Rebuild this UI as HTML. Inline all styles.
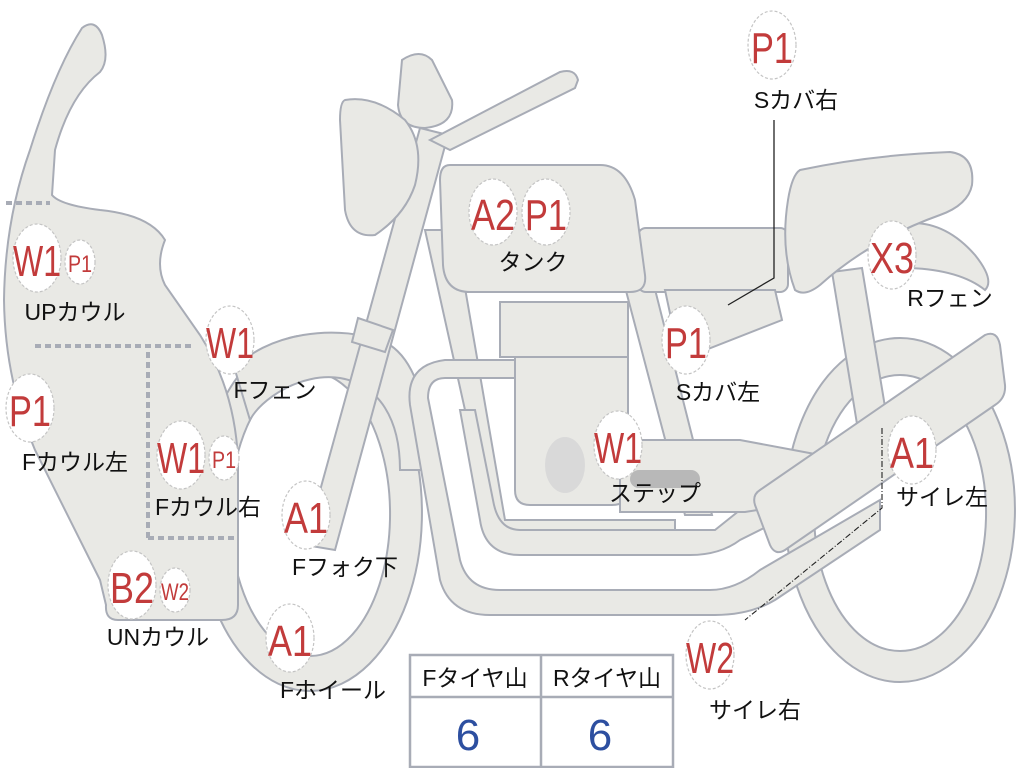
<!DOCTYPE html>
<html><head><meta charset="utf-8"><style>
html,body{margin:0;padding:0;background:#fff;}
svg{display:block;}
.s{fill:#e9e9e5;stroke:#a8acb6;stroke-width:2;}
.c{fill:#fff;stroke:#c4c4c4;stroke-width:1.2;stroke-dasharray:3 2;}
.r{fill:#c23b3b;font-family:"Liberation Sans","Noto Sans CJK JP",sans-serif;font-size:44px;text-anchor:middle;}
.rs{fill:#c23b3b;font-family:"Liberation Sans","Noto Sans CJK JP",sans-serif;font-size:24px;text-anchor:middle;}
.k{fill:#111;font-family:"Liberation Sans","Noto Sans CJK JP",sans-serif;font-size:23px;text-anchor:middle;}
</style></head><body>
<svg width="1024" height="768" viewBox="0 0 1024 768" xmlns="http://www.w3.org/2000/svg">
<rect width="1024" height="768" fill="#fff"/>
<path class="s" fill-rule="evenodd" d="M900,338 A115,172 0 1,1 899.9,338 Z M900,375 A86,138 0 1,0 900.1,375 Z"/>
<path class="s" fill-rule="evenodd" d="M310,335 A112,178 0 1,1 309.9,335 Z M310,372 A80,142 0 1,0 310.1,372 Z"/>
<path class="s" d="M235,370 C260,335 340,320 390,345 C420,365 430,420 430,470 L400,470 C400,420 380,385 340,378 C300,372 260,400 250,420 Z"/>
<path class="s" d="M425,230 L455,230 L505,520 L675,520 L675,545 L495,545 Z"/>
<path class="s" d="M610,230 L640,230 L712,515 L685,515 Z"/>
<path class="s" d="M445,378 Q428,378 428,398 L460,560 Q468,590 500,590 L710,590 Q735,590 760,570 L880,500 L880,530 L775,600 Q750,615 715,615 L490,615 Q450,615 440,580 L410,405 Q405,365 445,360 L520,360 L520,378 Z"/>
<path class="s" d="M460,410 L480,520 Q485,555 520,555 L690,555 Q720,555 740,540 L770,525 L780,500 L740,510 L715,530 L520,530 Q498,530 493,500 L475,410 Z"/>
<rect class="s" x="500" y="302" width="128" height="55"/>
<path class="s" d="M515,357 L628,357 L628,490 Q628,505 612,505 L530,505 Q515,505 515,490 Z"/>
<ellipse cx="565" cy="465" rx="20" ry="28" fill="#d9d9d9"/>
<path class="s" d="M620,440 L740,440 L820,455 L820,500 L745,512 L620,512 Z"/>
<rect x="630" y="470" width="70" height="18" rx="9" fill="#b8b8b8"/>
<path class="s" d="M832,272 L862,268 L888,425 L858,430 Z"/>
<path class="s" d="M760,490 L985,335 Q997,330 1000,345 L1005,385 Q1006,398 995,405 L785,550 Q775,556 770,545 L755,505 Q752,495 760,490 Z"/>
<path class="s" d="M895,225 Q940,215 975,255 Q995,280 985,290 Q960,270 910,268 Z"/>
<rect class="s" x="638" y="228" width="150" height="64" rx="8"/>
<path class="s" d="M665,290 L775,290 L782,320 L680,360 Z"/>
<path class="s" d="M800,170 Q870,155 950,152 Q975,155 972,185 Q968,205 940,215 Q870,240 820,285 Q805,297 795,290 Q780,250 788,200 Q792,175 800,170 Z"/>
<path class="s" d="M450,165 L600,165 Q625,165 635,200 L645,275 Q647,292 630,292 L470,292 Q445,292 443,265 L440,180 Q440,165 450,165 Z"/>
<path class="s" d="M420,128 L448,135 L335,550 L305,545 Z"/>
<path class="s" d="M358,318 L393,330 L385,352 L352,342 Z"/>
<path class="s" d="M430,140 L560,72 Q575,68 578,80 L575,88 L450,150 Z"/>
<path class="s" d="M402,60 Q420,48 432,60 L452,100 Q455,125 425,128 Q400,128 398,105 Z"/>
<path class="s" d="M345,100 Q375,95 405,120 Q425,145 415,185 Q405,215 375,235 Q350,238 345,210 L340,120 Q340,102 345,100 Z"/>
<path class="s" d="M82,28 Q95,18 102,35 Q110,60 100,72 Q70,95 55,150 L52,195 Q60,205 100,210 Q150,215 165,240 Q155,265 165,285 L200,335 Q235,390 238,460 L238,605 Q238,620 222,620 L118,620 Q105,620 106,605 L100,580 Q60,500 35,450 Q5,380 4,300 Q5,220 30,150 Q55,70 82,28 Z"/>
<g stroke="#a8acb6" stroke-width="4" stroke-dasharray="6 4" fill="none">
<line x1="6" y1="203" x2="50" y2="203"/>
<line x1="35" y1="346" x2="195" y2="346"/>
<line x1="148" y1="352" x2="148" y2="540"/>
<line x1="148" y1="538" x2="238" y2="538"/>
</g>
<polyline points="774,120 774,278 728,305" fill="none" stroke="#222" stroke-width="1.3"/>
<polyline points="882,428 882,508 745,620" fill="none" stroke="#222" stroke-width="1.1" stroke-dasharray="6 2 1 2"/>
<g>
<ellipse class="c" cx="772" cy="45" rx="24" ry="34"/><text class="r" x="772" y="63" textLength="42" lengthAdjust="spacingAndGlyphs">P1</text><text class="k" x="796" y="108">Sカバ右</text>
<ellipse class="c" cx="493" cy="212" rx="24" ry="33"/><text class="r" x="493" y="230" textLength="44" lengthAdjust="spacingAndGlyphs">A2</text>
<ellipse class="c" cx="546" cy="212" rx="24" ry="33"/><text class="r" x="546" y="230" textLength="42" lengthAdjust="spacingAndGlyphs">P1</text>
<text class="k" x="533" y="270">タンク</text>
<ellipse class="c" cx="37" cy="258" rx="24" ry="34"/><text class="r" x="37" y="276" textLength="48" lengthAdjust="spacingAndGlyphs">W1</text>
<ellipse class="c" cx="80" cy="262" rx="15" ry="22"/><text class="rs" x="80" y="272" textLength="24" lengthAdjust="spacingAndGlyphs">P1</text>
<text class="k" x="75" y="320">UPカウル</text>
<ellipse class="c" cx="230" cy="340" rx="24" ry="34"/><text class="r" x="230" y="358" textLength="48" lengthAdjust="spacingAndGlyphs">W1</text>
<text class="k" x="275" y="398">Fフェン</text>
<ellipse class="c" cx="30" cy="408" rx="24" ry="34"/><text class="r" x="30" y="426" textLength="42" lengthAdjust="spacingAndGlyphs">P1</text>
<text class="k" x="75" y="470">Fカウル左</text>
<ellipse class="c" cx="181" cy="455" rx="24" ry="34"/><text class="r" x="181" y="473" textLength="48" lengthAdjust="spacingAndGlyphs">W1</text>
<ellipse class="c" cx="224" cy="458" rx="15" ry="22"/><text class="rs" x="224" y="468" textLength="24" lengthAdjust="spacingAndGlyphs">P1</text>
<text class="k" x="208" y="515">Fカウル右</text>
<ellipse class="c" cx="306" cy="515" rx="24" ry="34"/><text class="r" x="306" y="533" textLength="44" lengthAdjust="spacingAndGlyphs">A1</text>
<text class="k" x="345" y="575">Fフォク下</text>
<ellipse class="c" cx="132" cy="585" rx="24" ry="34"/><text class="r" x="132" y="603" textLength="44" lengthAdjust="spacingAndGlyphs">B2</text>
<ellipse class="c" cx="175" cy="590" rx="15" ry="22"/><text class="rs" x="175" y="600" textLength="28" lengthAdjust="spacingAndGlyphs">W2</text>
<text class="k" x="158" y="645">UNカウル</text>
<ellipse class="c" cx="290" cy="638" rx="24" ry="34"/><text class="r" x="290" y="656" textLength="44" lengthAdjust="spacingAndGlyphs">A1</text>
<text class="k" x="333" y="698">Fホイール</text>
<ellipse class="c" cx="892" cy="255" rx="24" ry="34"/><text class="r" x="892" y="273" textLength="44" lengthAdjust="spacingAndGlyphs">X3</text>
<text class="k" x="950" y="306">Rフェン</text>
<ellipse class="c" cx="686" cy="340" rx="24" ry="34"/><text class="r" x="686" y="358" textLength="42" lengthAdjust="spacingAndGlyphs">P1</text>
<text class="k" x="718" y="400">Sカバ左</text>
<ellipse class="c" cx="618" cy="445" rx="24" ry="34"/><text class="r" x="618" y="463" textLength="48" lengthAdjust="spacingAndGlyphs">W1</text>
<text class="k" x="655" y="501">ステップ</text>
<ellipse class="c" cx="912" cy="450" rx="24" ry="34"/><text class="r" x="912" y="468" textLength="44" lengthAdjust="spacingAndGlyphs">A1</text>
<text class="k" x="942" y="505">サイレ左</text>
<ellipse class="c" cx="710" cy="655" rx="24" ry="34"/><text class="r" x="710" y="673" textLength="48" lengthAdjust="spacingAndGlyphs">W2</text>
<text class="k" x="755" y="718">サイレ右</text>
</g>
<g fill="none" stroke="#a8acb6" stroke-width="2.5">
<rect x="410" y="655" width="263" height="112"/>
<line x1="410" y1="697" x2="673" y2="697"/>
<line x1="541" y1="655" x2="541" y2="767"/>
</g>
<text class="k" x="475" y="686">Fタイヤ山</text>
<text class="k" x="607" y="686">Rタイヤ山</text>
<text x="468" y="750" fill="#2d4fa0" font-family="Liberation Sans, sans-serif" font-size="44" text-anchor="middle">6</text>
<text x="600" y="750" fill="#2d4fa0" font-family="Liberation Sans, sans-serif" font-size="44" text-anchor="middle">6</text>
</svg>
</body></html>
